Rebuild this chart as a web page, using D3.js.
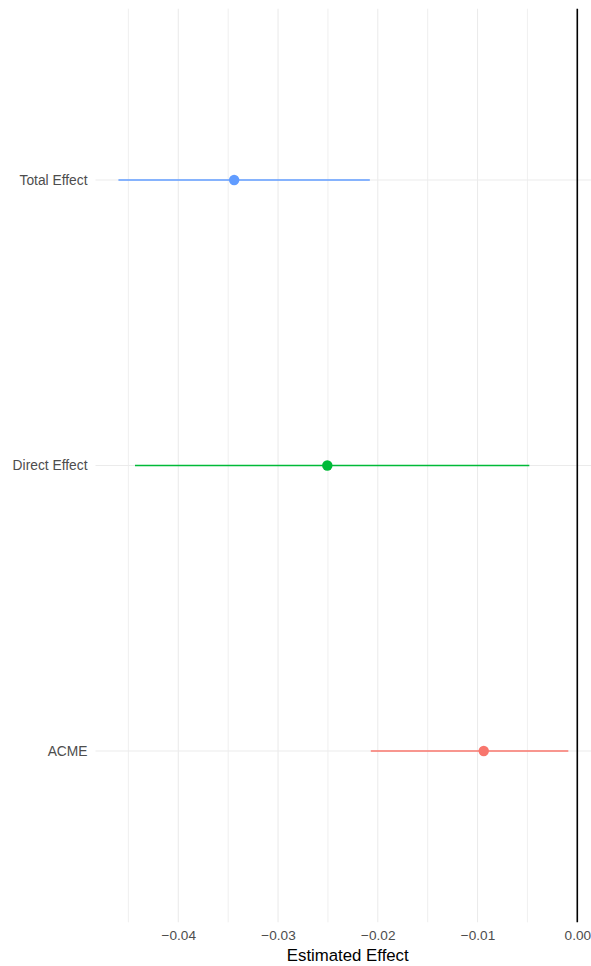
<!DOCTYPE html>
<html>
<head>
<meta charset="utf-8">
<script src="https://cdn.jsdelivr.net/npm/d3@7"></script>
<style>
  html, body { margin: 0; padding: 0; background: #fff; }
  svg { display: block; font-family: "Liberation Sans", Arial, Helvetica, sans-serif; }
</style>
</head>
<body>
<svg id="chart" width="591" height="966"></svg>
<script>
// Mediation estimates with 95% intervals
const effects = ["ACME", "Direct Effect", "Total Effect"];
const estimates = [-0.00938, -0.02506, -0.0344];
const lower = [-0.0207, -0.04434, -0.0460];
const upper = [-0.0009, -0.00481, -0.0208];
const colors = ["#F8766D", "#00BA38", "#619CFF"];
const xTicks = [-0.04, -0.03, -0.02, -0.01, 0.00];
const xMinor = [-0.045, -0.035, -0.025, -0.015, -0.005];

const W = 591, H = 966;
const margin = { left: 95.5, right: 0, top: 8.7, bottom: 43.7 };
const svg = d3.select("#chart");

// x range padded 5% beyond the data and the zero reference line
const lo = d3.min(lower), hi = 0;
const pad = (hi - lo) * 0.05;
const x = d3.scaleLinear()
  .domain([lo - pad, hi + pad])
  .range([margin.left, margin.left + (577.3 - margin.left) * (hi + pad - (lo - pad)) / (0 - (lo - pad))]);

const y = d3.scalePoint()
  .domain(effects.slice().reverse())
  .range([margin.top, H - margin.bottom])
  .padding(0.6);

const panelTop = margin.top, panelBottom = H - margin.bottom;
const grid = svg.append("g");

// minor vertical grid
grid.selectAll("line.minor").data(xMinor).enter().append("line")
  .attr("x1", d => x(d)).attr("x2", d => x(d))
  .attr("y1", panelTop).attr("y2", panelBottom)
  .attr("stroke", "#EBEBEB").attr("stroke-width", 0.8);

// major vertical grid
grid.selectAll("line.major").data(xTicks).enter().append("line")
  .attr("x1", d => x(d)).attr("x2", d => x(d))
  .attr("y1", panelTop).attr("y2", panelBottom)
  .attr("stroke", "#EBEBEB").attr("stroke-width", 1.07);

// horizontal grid at each category
grid.selectAll("line.h").data(effects).enter().append("line")
  .attr("x1", margin.left).attr("x2", W)
  .attr("y1", d => y(d)).attr("y2", d => y(d))
  .attr("stroke", "#EBEBEB").attr("stroke-width", 1.07);

// zero reference line
svg.append("line")
  .attr("x1", x(0)).attr("x2", x(0))
  .attr("y1", panelTop).attr("y2", panelBottom)
  .attr("stroke", "#000").attr("stroke-width", 1.6);

// interval segments and points
const rows = effects.map((e, i) => ({ e, est: estimates[i], lo: lower[i], hi: upper[i], c: colors[i] }));
svg.append("g").selectAll("line").data(rows).enter().append("line")
  .attr("x1", d => x(d.lo)).attr("x2", d => x(d.hi))
  .attr("y1", d => y(d.e)).attr("y2", d => y(d.e))
  .attr("stroke", d => d.c).attr("stroke-width", 1.6);

svg.append("g").selectAll("circle").data(rows).enter().append("circle")
  .attr("cx", d => x(d.est)).attr("cy", d => y(d.e))
  .attr("r", 5.2).attr("fill", d => d.c);

// y axis labels
const yAxis = d3.axisLeft(y).tickSize(0).tickPadding(8);
const gy = svg.append("g").attr("transform", `translate(${margin.left},0)`).call(yAxis);
gy.select(".domain").remove();
gy.selectAll("text").attr("font-size", 13.8).attr("fill", "#4D4D4D")
  .attr("font-family", "Liberation Sans, Arial, sans-serif");

// x axis labels
const fmt = d => (d < 0 ? "\u2212" : "") + Math.abs(d).toFixed(2);
const xAxis = d3.axisBottom(x).tickValues(xTicks).tickFormat(fmt).tickSize(0).tickPadding(8);
const gx = svg.append("g").attr("transform", `translate(0,${panelBottom})`).call(xAxis);
gx.select(".domain").remove();
gx.selectAll("text").attr("font-size", 13.6).attr("fill", "#4D4D4D")
  .attr("font-family", "Liberation Sans, Arial, sans-serif");

// x axis title
svg.append("text")
  .attr("x", (margin.left + 600) / 2).attr("y", 960.5)
  .attr("text-anchor", "middle")
  .attr("font-size", 16.8).attr("fill", "#000")
  .text("Estimated Effect");
</script>
</body>
</html>
